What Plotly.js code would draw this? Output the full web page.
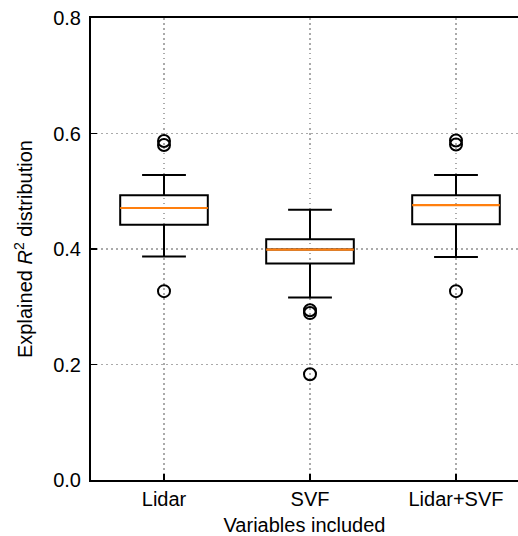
<!DOCTYPE html>
<html>
<head>
<meta charset="utf-8">
<script src="https://cdn.plot.ly/plotly-3.0.1.min.js"></script>
<style>html,body{margin:0;padding:0;background:#fff;}#chart{width:518px;height:536px;}</style>
</head>
<body>
<div id="chart"></div>
<script>
const categories = ["Lidar", "SVF", "Lidar+SVF"];
const lowerWhisker = [0.387, 0.316, 0.386];
const q1 = [0.442, 0.375, 0.443];
const median = [0.471, 0.399, 0.476];
const q3 = [0.493, 0.417, 0.493];
const upperWhisker = [0.528, 0.468, 0.528];
const outliers = [
  [0.587, 0.580, 0.327],
  [0.294, 0.289, 0.183],
  [0.588, 0.581, 0.327]
];
const yTicks = [0.0, 0.2, 0.4, 0.6, 0.8];

const pos = categories.map((c, i) => i + 1);
const boxWidth = 0.6;

const traces = [];
traces.push({
  type: 'box',
  x: pos,
  q1: q1, median: median, q3: q3,
  lowerfence: lowerWhisker, upperfence: upperWhisker,
  width: boxWidth,
  whiskerwidth: 0.5,
  fillcolor: 'rgba(0,0,0,0)',
  line: {color: '#000', width: 2},
  boxpoints: false,
  hoverinfo: 'skip',
  showlegend: false
});
const mx = [], my = [];
pos.forEach((p, i) => { mx.push(p - boxWidth/2, p + boxWidth/2, null); my.push(median[i], median[i], null); });
traces.push({type: 'scatter', mode: 'lines', x: mx, y: my, line: {color: '#ff7f0e', width: 2.2}, showlegend: false, hoverinfo: 'skip'});
const ox = [], oy = [];
outliers.forEach((arr, i) => arr.forEach(v => { ox.push(pos[i]); oy.push(v); }));
traces.push({type: 'scatter', mode: 'markers', x: ox, y: oy,
  marker: {symbol: 'circle-open', size: 12, color: '#000', line: {width: 2, color: '#000'}},
  showlegend: false, hoverinfo: 'skip'});

const font = {family: 'Liberation Sans, Helvetica, Arial, sans-serif', size: 20, color: '#000'};
const layout = {
  width: 518, height: 536,
  margin: {l: 91, r: 0, t: 18, b: 56},
  paper_bgcolor: '#fff', plot_bgcolor: '#fff',
  font: font,
  showlegend: false,
  xaxis: {
    range: [0.5, 0.5 + 427/146],
    tickmode: 'array', tickvals: pos, ticktext: categories,
    ticks: 'inside', ticklen: 6, tickwidth: 1.5, tickcolor: '#000',
    showline: true, linecolor: '#000', linewidth: 2, mirror: true,
    showgrid: true, gridcolor: '#aaaaaa', griddash: '1.5px,3.5px', gridwidth: 1.5,
    zeroline: false,
    ticklabelstandoff: 0,
    tickfont: font,
    title: {text: 'Variables included', font: font, standoff: 9}
  },
  yaxis: {
    range: [0, 0.8],
    tickmode: 'array', tickvals: yTicks, ticktext: yTicks.map(v => v.toFixed(1)),
    ticks: 'inside', ticklen: 6, tickwidth: 1.5, tickcolor: '#000',
    showline: true, linecolor: '#000', linewidth: 2, mirror: false,
    showgrid: true, gridcolor: '#aaaaaa', griddash: '1.5px,3.5px', gridwidth: 1.5,
    zeroline: false,
    ticklabelstandoff: 4,
    tickfont: font,
    title: {text: 'Explained <i>R</i><sup>2</sup> distribution', font: font, standoff: 15}
  }
};
Plotly.newPlot('chart', traces, layout, {staticPlot: true, displayModeBar: false});
</script>
</body>
</html>
